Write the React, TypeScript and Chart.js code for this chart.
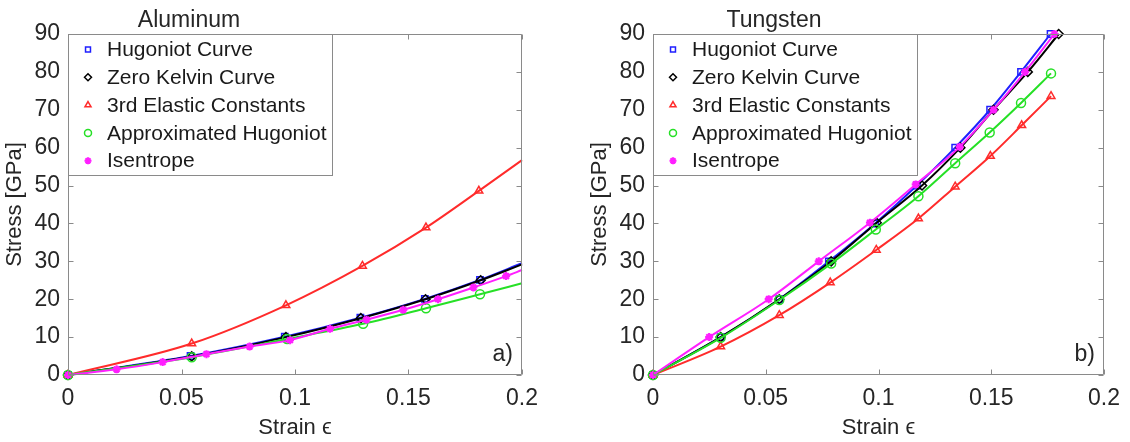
import React, { useEffect, useRef } from "react";
import { Chart, registerables } from "chart.js";
import { drawPoint } from "chart.js/helpers";

Chart.register(...registerables);

const FONT = '"Liberation Sans", Arial, Helvetica, sans-serif';
const TEXT = "#262626";
const FRAME = "#8a8a8a";

// ---- shared series info ----
const seriesNames = [
  "Hugoniot Curve",
  "Zero Kelvin Curve",
  "3rd Elastic Constants",
  "Approximated Hugoniot",
  "Isentrope",
];
const seriesColors = ["#1f1fff", "#000000", "#ff2b2b", "#26e026", "#ff1fff"];
const seriesMarkers = ["rect", "rectRot", "triangle", "circle", "star"];

// ---- ticks ----
const xTicks = [0, 0.05, 0.1, 0.15, 0.2];
const xTickLabels = ["0", "0.05", "0.1", "0.15", "0.2"];
const yTicks = [0, 10, 20, 30, 40, 50, 60, 70, 80, 90];
const yTickLabels = ["0", "10", "20", "30", "40", "50", "60", "70", "80", "90"];

// ---- Aluminum (last point of each series is the line end, no marker) ----
const alHugoniotX = [0, 0.054, 0.0955, 0.1288, 0.1572, 0.1815, 0.2];
const alHugoniotY = [0, 5.0, 10.1, 15.1, 20.1, 25.1, 29.5];
const alZeroKX = [0, 0.0545, 0.096, 0.129, 0.1575, 0.1818, 0.2];
const alZeroKY = [0, 4.9, 10.0, 15.0, 20.0, 25.0, 29.2];
const alElasticX = [0, 0.0545, 0.096, 0.1297, 0.1577, 0.181, 0.2];
const alElasticY = [0, 8.3, 18.4, 28.8, 38.9, 48.6, 56.7];
const alApproxX = [0, 0.0545, 0.0965, 0.13, 0.1577, 0.1815, 0.2];
const alApproxY = [0, 4.7, 9.5, 13.5, 17.6, 21.3, 24.2];
const alIsentropeX = [0, 0.0214, 0.0417, 0.061, 0.08, 0.0978, 0.1154, 0.1315, 0.1477, 0.163, 0.1786, 0.193, 0.2];
const alIsentropeY = [0, 1.5, 3.4, 5.5, 7.5, 9.2, 12.2, 14.6, 17.2, 20.0, 23.1, 26.1, 27.7];

// ---- Tungsten ----
const wHugoniotX = [0, 0.03, 0.056, 0.078, 0.0985, 0.117, 0.134, 0.1495, 0.1632, 0.1763];
const wHugoniotY = [0, 10, 20, 30, 40, 50, 60, 70, 80, 90];
const wZeroKX = [0, 0.03, 0.056, 0.079, 0.0992, 0.1193, 0.1363, 0.151, 0.1662, 0.1799];
const wZeroKY = [0, 10, 20, 30, 40.2, 50, 60, 70, 80, 90];
const wElasticX = [0, 0.03, 0.056, 0.0786, 0.099, 0.1177, 0.134, 0.1496, 0.1635, 0.1765];
const wElasticY = [0, 7.5, 15.8, 24.4, 33, 41.3, 49.7, 57.8, 65.9, 73.6];
const wApproxX = [0, 0.03, 0.056, 0.079, 0.0988, 0.1177, 0.134, 0.1493, 0.1632, 0.1765];
const wApproxY = [0, 9.8, 19.8, 29.4, 38.4, 47.2, 55.9, 64, 71.8, 79.6];
const wIsentropeX = [0, 0.0249, 0.0513, 0.0735, 0.0962, 0.1165, 0.136, 0.151, 0.165, 0.178];
const wIsentropeY = [0, 10, 20, 30, 40.2, 50.3, 60.2, 70, 80, 90];

type PanelProps = {
  left: number;
  padLeft: number;
  padRight: number;
  title: string;
  tag: string;
  xs: number[][];
  ys: number[][];
  tailLine: boolean;
};

const W = 565;
const H = 442;

function Panel({ left, padLeft, padRight, title, tag, xs, ys, tailLine }: PanelProps) {
  const ref = useRef<HTMLCanvasElement>(null);

  useEffect(() => {
    const canvas = ref.current!;
    Chart.defaults.font.family = FONT;
    Chart.defaults.color = TEXT;

    const decor = {
      id: "decor",
      afterDraw(chart: any) {
        const { ctx, chartArea: a } = chart;
        const sx = chart.scales.x;
        const sy = chart.scales.y;
        ctx.save();
        const L = Math.round(a.left) + 0.5;
        const R = Math.round(a.right) - 0.5;
        const T = Math.round(a.top) + 0.5;
        const B = Math.round(a.bottom) - 0.5;
        ctx.strokeStyle = FRAME;
        ctx.lineWidth = 1;
        ctx.beginPath();
        ctx.rect(L, T, R - L, B - T);
        xTicks.forEach((v) => {
          const px = Math.round(sx.getPixelForValue(v)) + 0.5;
          ctx.moveTo(px, B);
          ctx.lineTo(px, B - 5);
          ctx.moveTo(px, T);
          ctx.lineTo(px, T + 5);
        });
        yTicks.forEach((v) => {
          const py = Math.round(sy.getPixelForValue(v)) + 0.5;
          ctx.moveTo(L, py);
          ctx.lineTo(L + 5, py);
          ctx.moveTo(R, py);
          ctx.lineTo(R - 5, py);
        });
        ctx.stroke();

        // legend box
        const lw = 264;
        const lh = 141;
        ctx.fillStyle = "#ffffff";
        ctx.fillRect(L, T, lw, lh);
        ctx.strokeStyle = FRAME;
        ctx.strokeRect(L, T, lw, lh);
        ctx.font = `21px ${FONT}`;
        ctx.textBaseline = "middle";
        ctx.textAlign = "left";
        seriesNames.forEach((n, i) => {
          const y = a.top + 15.5 + i * 27.8;
          ctx.fillStyle = "#1a1a1a";
          ctx.fillText(n, a.left + 39, y + 1);
          ctx.strokeStyle = seriesColors[i];
          ctx.fillStyle = seriesMarkers[i] === "star" ? seriesColors[i] : "rgba(0,0,0,0)";
          ctx.lineWidth = seriesMarkers[i] === "star" ? 2 : 1.5;
          drawPoint(
            ctx,
            { pointStyle: seriesMarkers[i], radius: 3.5, rotation: 0, borderWidth: ctx.lineWidth } as any,
            a.left + 20,
            y
          );
        });

        // panel title
        ctx.fillStyle = TEXT;
        ctx.font = `23px ${FONT}`;
        ctx.textAlign = "center";
        ctx.textBaseline = "alphabetic";
        ctx.fillText(title, a.left + 121, 27);

        // tag
        ctx.textAlign = "right";
        ctx.textBaseline = "middle";
        ctx.fillText(tag, a.right - 9, a.bottom - 20);
        ctx.restore();
      },
    };

    const datasets = seriesNames.map((name, i) => {
      const last = xs[i].length - 1;
      const isStar = seriesMarkers[i] === "star";
      return {
        label: name,
        data: xs[i].map((x, j) => ({ x, y: ys[i][j] })),
        borderColor: seriesColors[i],
        backgroundColor: "rgba(0,0,0,0)",
        borderWidth: 2,
        pointStyle: seriesMarkers[i],
        pointBorderColor: seriesColors[i],
        pointBackgroundColor: isStar ? seriesColors[i] : "rgba(0,0,0,0)",
        pointBorderWidth: isStar ? 2.2 : 1.5,
        pointRadius: (c: any) => (tailLine && c.dataIndex === last ? 0 : isStar ? 4 : 4.5),
        cubicInterpolationMode: "monotone" as const,
        fill: false,
        clip: 12,
        order: 5 - i,
      };
    });

    const chart = new Chart(canvas, {
      type: "line",
      data: { datasets },
      options: {
        responsive: false,
        animation: false,
        devicePixelRatio: 1,
        layout: { padding: { top: 34, right: padRight, bottom: 0, left: padLeft } },
        plugins: {
          legend: { display: false },
          tooltip: { enabled: false },
          title: { display: false },
        },
        scales: {
          x: {
            type: "linear",
            min: 0,
            max: 0.2,
            grid: { display: false, drawTicks: false },
            border: { display: false },
            afterBuildTicks: (s: any) => {
              s.ticks = xTicks.map((v) => ({ value: v }));
            },
            afterFit: (s: any) => {
              s.height = H - 375;
            },
            ticks: {
              padding: 10,
              font: { size: 23 },
              color: TEXT,
              maxRotation: 0,
              autoSkip: false,
              callback: (_v: any, i: number) => xTickLabels[i],
            },
            title: {
              display: true,
              text: "Strain ϵ",
              font: { size: 22 },
              color: TEXT,
              padding: { top: 0, bottom: 1 },
            },
          },
          y: {
            type: "linear",
            min: 0,
            max: 90,
            grid: { display: false, drawTicks: false },
            border: { display: false },
            afterBuildTicks: (s: any) => {
              s.ticks = yTicks.map((v) => ({ value: v }));
            },
            afterFit: (s: any) => {
              s.width = 68;
            },
            ticks: {
              padding: 8,
              font: { size: 23 },
              color: TEXT,
              autoSkip: false,
              callback: (_v: any, i: number) => yTickLabels[i],
            },
            title: {
              display: true,
              text: "Stress [GPa]",
              font: { size: 22 },
              color: TEXT,
              padding: { top: 2, bottom: 0 },
            },
          },
        },
      },
      plugins: [decor],
    } as any);

    return () => chart.destroy();
  }, []);

  return (
    <canvas
      ref={ref}
      width={W}
      height={H}
      style={{ position: "absolute", left, top: 0, width: W, height: H }}
    />
  );
}

export default function App() {
  return (
    <div
      style={{
        position: "absolute",
        left: 0,
        top: 0,
        width: 1130,
        height: 442,
        background: "#ffffff",
        overflow: "hidden",
      }}
    >
      <Panel
        left={0}
        padLeft={0}
        padRight={43}
        title="Aluminum"
        tag="a)"
        tailLine={true}
        xs={[alHugoniotX, alZeroKX, alElasticX, alApproxX, alIsentropeX]}
        ys={[alHugoniotY, alZeroKY, alElasticY, alApproxY, alIsentropeY]}
      />
      <Panel
        left={565}
        padLeft={20}
        padRight={22}
        title="Tungsten"
        tag="b)"
        tailLine={false}
        xs={[wHugoniotX, wZeroKX, wElasticX, wApproxX, wIsentropeX]}
        ys={[wHugoniotY, wZeroKY, wElasticY, wApproxY, wIsentropeY]}
      />
    </div>
  );
}
